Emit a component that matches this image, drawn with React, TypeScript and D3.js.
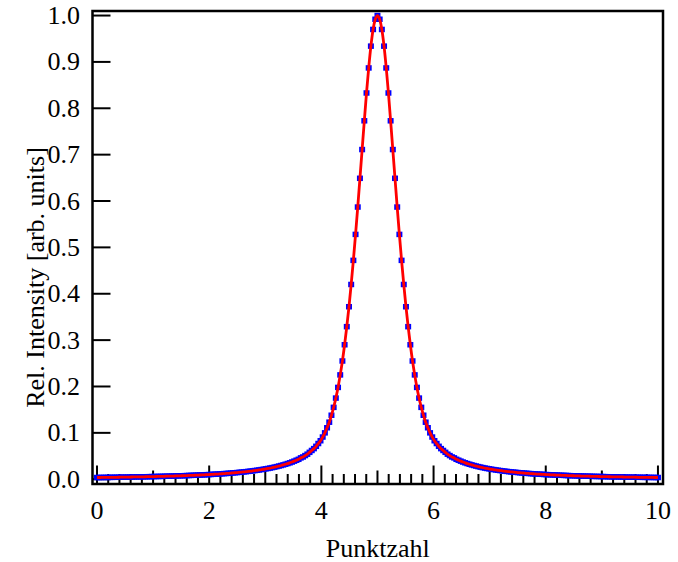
import React from "react";
import * as d3 from "d3";

const intensity: number[] = [
  0.0037, 0.0037, 0.0038, 0.0039, 0.0039, 0.0040, 0.0040, 0.0041, 0.0042, 0.0042,
  0.0043, 0.0044, 0.0045, 0.0045, 0.0046, 0.0047, 0.0048, 0.0049, 0.0050, 0.0051,
  0.0051, 0.0052, 0.0053, 0.0054, 0.0055, 0.0057, 0.0058, 0.0059, 0.0060, 0.0061,
  0.0062, 0.0064, 0.0065, 0.0066, 0.0068, 0.0069, 0.0071, 0.0072, 0.0074, 0.0075,
  0.0077, 0.0079, 0.0081, 0.0083, 0.0085, 0.0087, 0.0089, 0.0091, 0.0093, 0.0095,
  0.0098, 0.0100, 0.0103, 0.0106, 0.0108, 0.0111, 0.0114, 0.0118, 0.0121, 0.0124,
  0.0128, 0.0132, 0.0136, 0.0140, 0.0144, 0.0149, 0.0153, 0.0158, 0.0163, 0.0169,
  0.0174, 0.0180, 0.0187, 0.0193, 0.0200, 0.0208, 0.0215, 0.0224, 0.0232, 0.0241,
  0.0251, 0.0261, 0.0272, 0.0284, 0.0296, 0.0309, 0.0323, 0.0338, 0.0354, 0.0371,
  0.039, 0.041, 0.043, 0.046, 0.048, 0.051, 0.054, 0.058, 0.062, 0.066,
  0.071, 0.077, 0.083, 0.091, 0.100, 0.111, 0.123, 0.138, 0.155, 0.175,
  0.198, 0.225, 0.255, 0.290, 0.329, 0.372, 0.420, 0.472, 0.528, 0.587,
  0.649, 0.711, 0.773, 0.833, 0.887, 0.934, 0.970, 0.992,
  1.000,
  0.992, 0.970, 0.934, 0.887, 0.833, 0.773, 0.711, 0.649,
  0.587, 0.528, 0.472, 0.420, 0.372, 0.329, 0.290, 0.255, 0.225, 0.198,
  0.175, 0.155, 0.138, 0.123, 0.111, 0.100, 0.091, 0.083, 0.077, 0.071,
  0.066, 0.062, 0.058, 0.054, 0.051, 0.048, 0.046, 0.043, 0.041, 0.039,
  0.0371, 0.0354, 0.0338, 0.0323, 0.0309, 0.0296, 0.0284, 0.0272, 0.0261, 0.0251,
  0.0241, 0.0232, 0.0224, 0.0215, 0.0208, 0.0200, 0.0193, 0.0187, 0.0180, 0.0174,
  0.0169, 0.0163, 0.0158, 0.0153, 0.0149, 0.0144, 0.0140, 0.0136, 0.0132, 0.0128,
  0.0124, 0.0121, 0.0118, 0.0114, 0.0111, 0.0108, 0.0106, 0.0103, 0.0100, 0.0098,
  0.0095, 0.0093, 0.0091, 0.0089, 0.0087, 0.0085, 0.0083, 0.0081, 0.0079, 0.0077,
  0.0075, 0.0074, 0.0072, 0.0071, 0.0069, 0.0068, 0.0066, 0.0065, 0.0064, 0.0062,
  0.0061, 0.0060, 0.0059, 0.0058, 0.0057, 0.0055, 0.0054, 0.0053, 0.0052, 0.0051,
  0.0051, 0.0050, 0.0049, 0.0048, 0.0047, 0.0046, 0.0045, 0.0045, 0.0044, 0.0043,
  0.0042, 0.0042, 0.0041, 0.0040, 0.0040, 0.0039, 0.0039, 0.0038, 0.0037, 0.0037,
];
const xStep = 10 / 256;

const xTickLabels: number[] = [0, 2, 4, 6, 8, 10];
const yTickLabels: number[] = [0, 0.1, 0.2, 0.3, 0.4, 0.5, 0.6, 0.7, 0.8, 0.9, 1.0];
const xTitle = "Punktzahl";
const yTitle = "Rel. Intensity [arb. units]";

const W = 678;
const H = 562;
const frame = { left: 92.5, right: 663, top: 11, bottom: 484 };
const FONT = "'Liberation Serif', 'Times New Roman', serif";
const FS = 26;

export default function App() {
  const x = d3.scaleLinear().domain([-0.08, 10.09]).range([frame.left, frame.right]);
  const y = d3.scaleLinear().domain([-0.0103, 1.0098]).range([frame.bottom, frame.top]);

  const pts = intensity.map((v, i) => ({ x: i * xStep, y: v }));
  const line = d3
    .line<{ x: number; y: number }>()
    .x((d) => x(d.x))
    .y((d) => y(d.y))
    .curve(d3.curveMonotoneX);

  const minorTicks = d3.range(0, 51).map((i) => i * 0.2);

  return (
    <svg
      width={W}
      height={H}
      style={{ position: "absolute", left: 0, top: 0, background: "#fff" }}
      fontFamily={FONT}
    >
      <rect x={0} y={0} width={W} height={H} fill="#fff" />
      {minorTicks.map((t, i) => {
        const len = i % 10 === 0 ? 18.5 : i % 5 === 0 ? 13.5 : 10;
        return (
          <line
            key={"xt" + i}
            x1={x(t)}
            x2={x(t)}
            y1={frame.bottom}
            y2={frame.bottom - len}
            stroke="#000"
            strokeWidth={2}
          />
        );
      })}
      {yTickLabels.map((t) => (
        <line
          key={"yt" + t}
          x1={frame.left}
          x2={frame.left + 18}
          y1={y(t)}
          y2={y(t)}
          stroke="#000"
          strokeWidth={2}
        />
      ))}
      {pts.map((p, i) => (
        <rect
          key={"m" + i}
          x={x(p.x) - 3}
          y={y(p.y) - 2.75}
          width={6}
          height={5.5}
          fill="#0000ff"
        />
      ))}
      <path d={line(pts) || ""} fill="none" stroke="#ff0000" strokeWidth={2.8} />
      <rect
        x={frame.left}
        y={frame.top}
        width={frame.right - frame.left}
        height={frame.bottom - frame.top}
        fill="none"
        stroke="#000"
        strokeWidth={2.5}
      />
      {xTickLabels.map((t) => (
        <text key={"xl" + t} x={x(t)} y={519} textAnchor="middle" fontSize={FS} fill="#000">
          {t}
        </text>
      ))}
      {yTickLabels.map((t) => (
        <text
          key={"yl" + t}
          x={80}
          y={y(t) + 8.5}
          textAnchor="end"
          fontSize={FS}
          fill="#000"
        >
          {t.toFixed(1)}
        </text>
      ))}
      <text x={(frame.left + frame.right) / 2} y={557} textAnchor="middle" fontSize={FS} fill="#000">
        {xTitle}
      </text>
      <text
        transform={`translate(44, ${(frame.top + frame.bottom) / 2 + 30}) rotate(-90)`}
        textAnchor="middle"
        fontSize={FS}
        fill="#000"
      >
        {yTitle}
      </text>
    </svg>
  );
}
